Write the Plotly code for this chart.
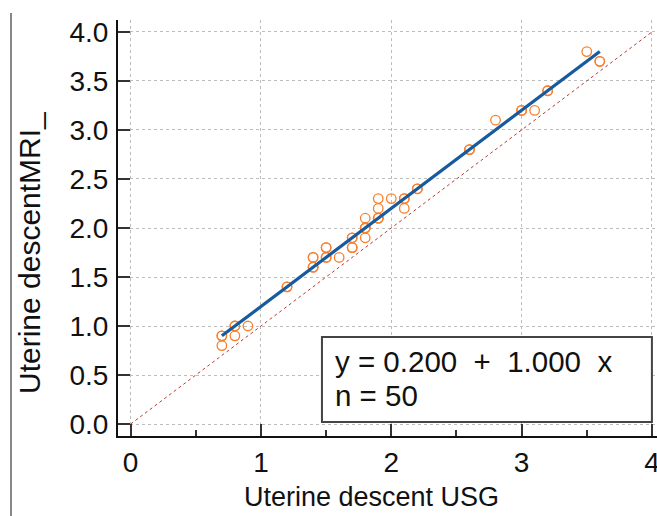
import plotly.graph_objects as go

# Paired measurements of uterine descent (cm): ultrasound vs MRI (n = 50)
usg = [0.7, 0.7, 0.8, 0.8, 0.9, 1.2, 1.4, 1.4, 1.5, 1.5,
       1.6, 1.7, 1.7, 1.8, 1.8, 1.8, 1.9, 1.9, 1.9, 2.0,
       2.1, 2.1, 2.2, 2.6, 2.8, 3.0, 3.1, 3.2, 3.5, 3.6,
       0.7, 0.8, 1.2, 1.4, 1.5, 1.7, 1.8, 1.9, 2.1, 2.2,
       2.6, 3.0, 3.2, 1.8, 1.9, 3.6, 1.5, 1.7, 1.4, 1.4]
mri = [0.8, 0.9, 0.9, 1.0, 1.0, 1.4, 1.6, 1.7, 1.7, 1.8,
       1.7, 1.8, 1.9, 1.9, 2.0, 2.1, 2.1, 2.2, 2.3, 2.3,
       2.2, 2.3, 2.4, 2.8, 3.1, 3.2, 3.2, 3.4, 3.8, 3.7,
       0.9, 1.0, 1.4, 1.6, 1.7, 1.9, 2.0, 2.1, 2.3, 2.4,
       2.8, 3.2, 3.4, 2.0, 2.1, 3.7, 1.8, 1.8, 1.7, 1.6]

# Passing-Bablok style fit reported for the data
intercept = 0.200
slope = 1.000

x_ticks = [0, 1, 2, 3, 4]
y_ticks = [0.0, 0.5, 1.0, 1.5, 2.0, 2.5, 3.0, 3.5, 4.0]
x_title = "Uterine descent USG"
y_title = "Uterine descentMRI_"

FONT = "Liberation Sans, Arial, sans-serif"

fit_x = [min(usg), max(usg)]
fit_y = [intercept + slope * v for v in fit_x]
ident = [x_ticks[0], x_ticks[-1]]

fig = go.Figure()

# line of identity
fig.add_trace(go.Scatter(
    x=ident, y=ident, mode="lines",
    line=dict(color="#B83A3A", width=1, dash="dot"),
    hoverinfo="skip", showlegend=False))

# observations
fig.add_trace(go.Scatter(
    x=usg, y=mri, mode="markers",
    marker=dict(symbol="circle-open", size=9.5, color="#FA7F2A",
                line=dict(width=1.3, color="#FA7F2A")),
    showlegend=False))

# regression line
fig.add_trace(go.Scatter(
    x=fit_x, y=fit_y, mode="lines",
    line=dict(color="#175A9E", width=3.2),
    showlegend=False))

W, H = 657, 516
L, R, T, B = 118, 0, 20, 80

axis_common = dict(
    showline=True, linecolor="#111111", linewidth=2,
    ticks="inside", ticklen=12, tickwidth=2, tickcolor="#333333",
    showgrid=True, gridcolor="#BDBDBD", gridwidth=1, griddash="dot",
    zeroline=False, automargin=False,
    tickfont=dict(family=FONT, size=28, color="#111111"),
    ticklabeloverflow="allow",
)

fig.update_xaxes(
    range=[-0.097, 4.039], tickvals=x_ticks, ticktext=[str(v) for v in x_ticks],
    minor=dict(dtick=0.5, ticks="inside", ticklen=6, tickwidth=1.5,
               tickcolor="#333333", showgrid=False),
    ticklabelstandoff=0,
    **axis_common)
fig.update_yaxes(
    range=[-0.122, 4.122], tickvals=y_ticks,
    ticktext=[f"{v:.1f}" for v in y_ticks],
    ticklabelstandoff=2,
    **axis_common)

# equation box
fig.add_shape(type="rect", xref="x", yref="y",
              x0=1.468, x1=4.0, y0=0.02, y1=0.888,
              line=dict(color="#444444", width=2), fillcolor="white",
              layer="above")

eq_text = "y = {:.3f}\u00a0\u00a0+\u00a0\u00a0{:.3f}\u00a0\u00a0x".format(intercept, slope)
fig.add_annotation(x=1.553, y=0.636, xref="x", yref="y", text=eq_text,
                   showarrow=False, xanchor="left", yanchor="middle",
                   font=dict(family=FONT, size=29.5, color="#111111"))
fig.add_annotation(x=1.553, y=0.296, xref="x", yref="y",
                   text="n = {}".format(len(usg)),
                   showarrow=False, xanchor="left", yanchor="middle",
                   font=dict(family=FONT, size=29.5, color="#111111"))

# axis titles
pw, ph = W - L - R, H - T - B
def px_x(p):
    return (p - L) / pw
def px_y(p):
    return (H - B - p) / ph

fig.add_annotation(x=px_x(371), y=px_y(497), xref="paper", yref="paper",
                   text=x_title, showarrow=False,
                   xanchor="center", yanchor="middle",
                   font=dict(family=FONT, size=27, color="#111111"))
fig.add_annotation(x=px_x(29), y=px_y(253), xref="paper", yref="paper",
                   text=y_title, showarrow=False, textangle=-90,
                   xanchor="center", yanchor="middle",
                   font=dict(family=FONT, size=30, color="#111111"))

# outer frame edge on the left
fig.add_shape(type="line", xref="paper", yref="paper",
              x0=px_x(11), x1=px_x(11), y0=px_y(13), y1=px_y(520),
              line=dict(color="#111111", width=1))

fig.update_layout(
    width=W, height=H,
    margin=dict(l=L, r=R, t=T, b=B, pad=0),
    paper_bgcolor="white", plot_bgcolor="white",
    font=dict(family=FONT),
    showlegend=False,
)

fig.write_html("out.html")
